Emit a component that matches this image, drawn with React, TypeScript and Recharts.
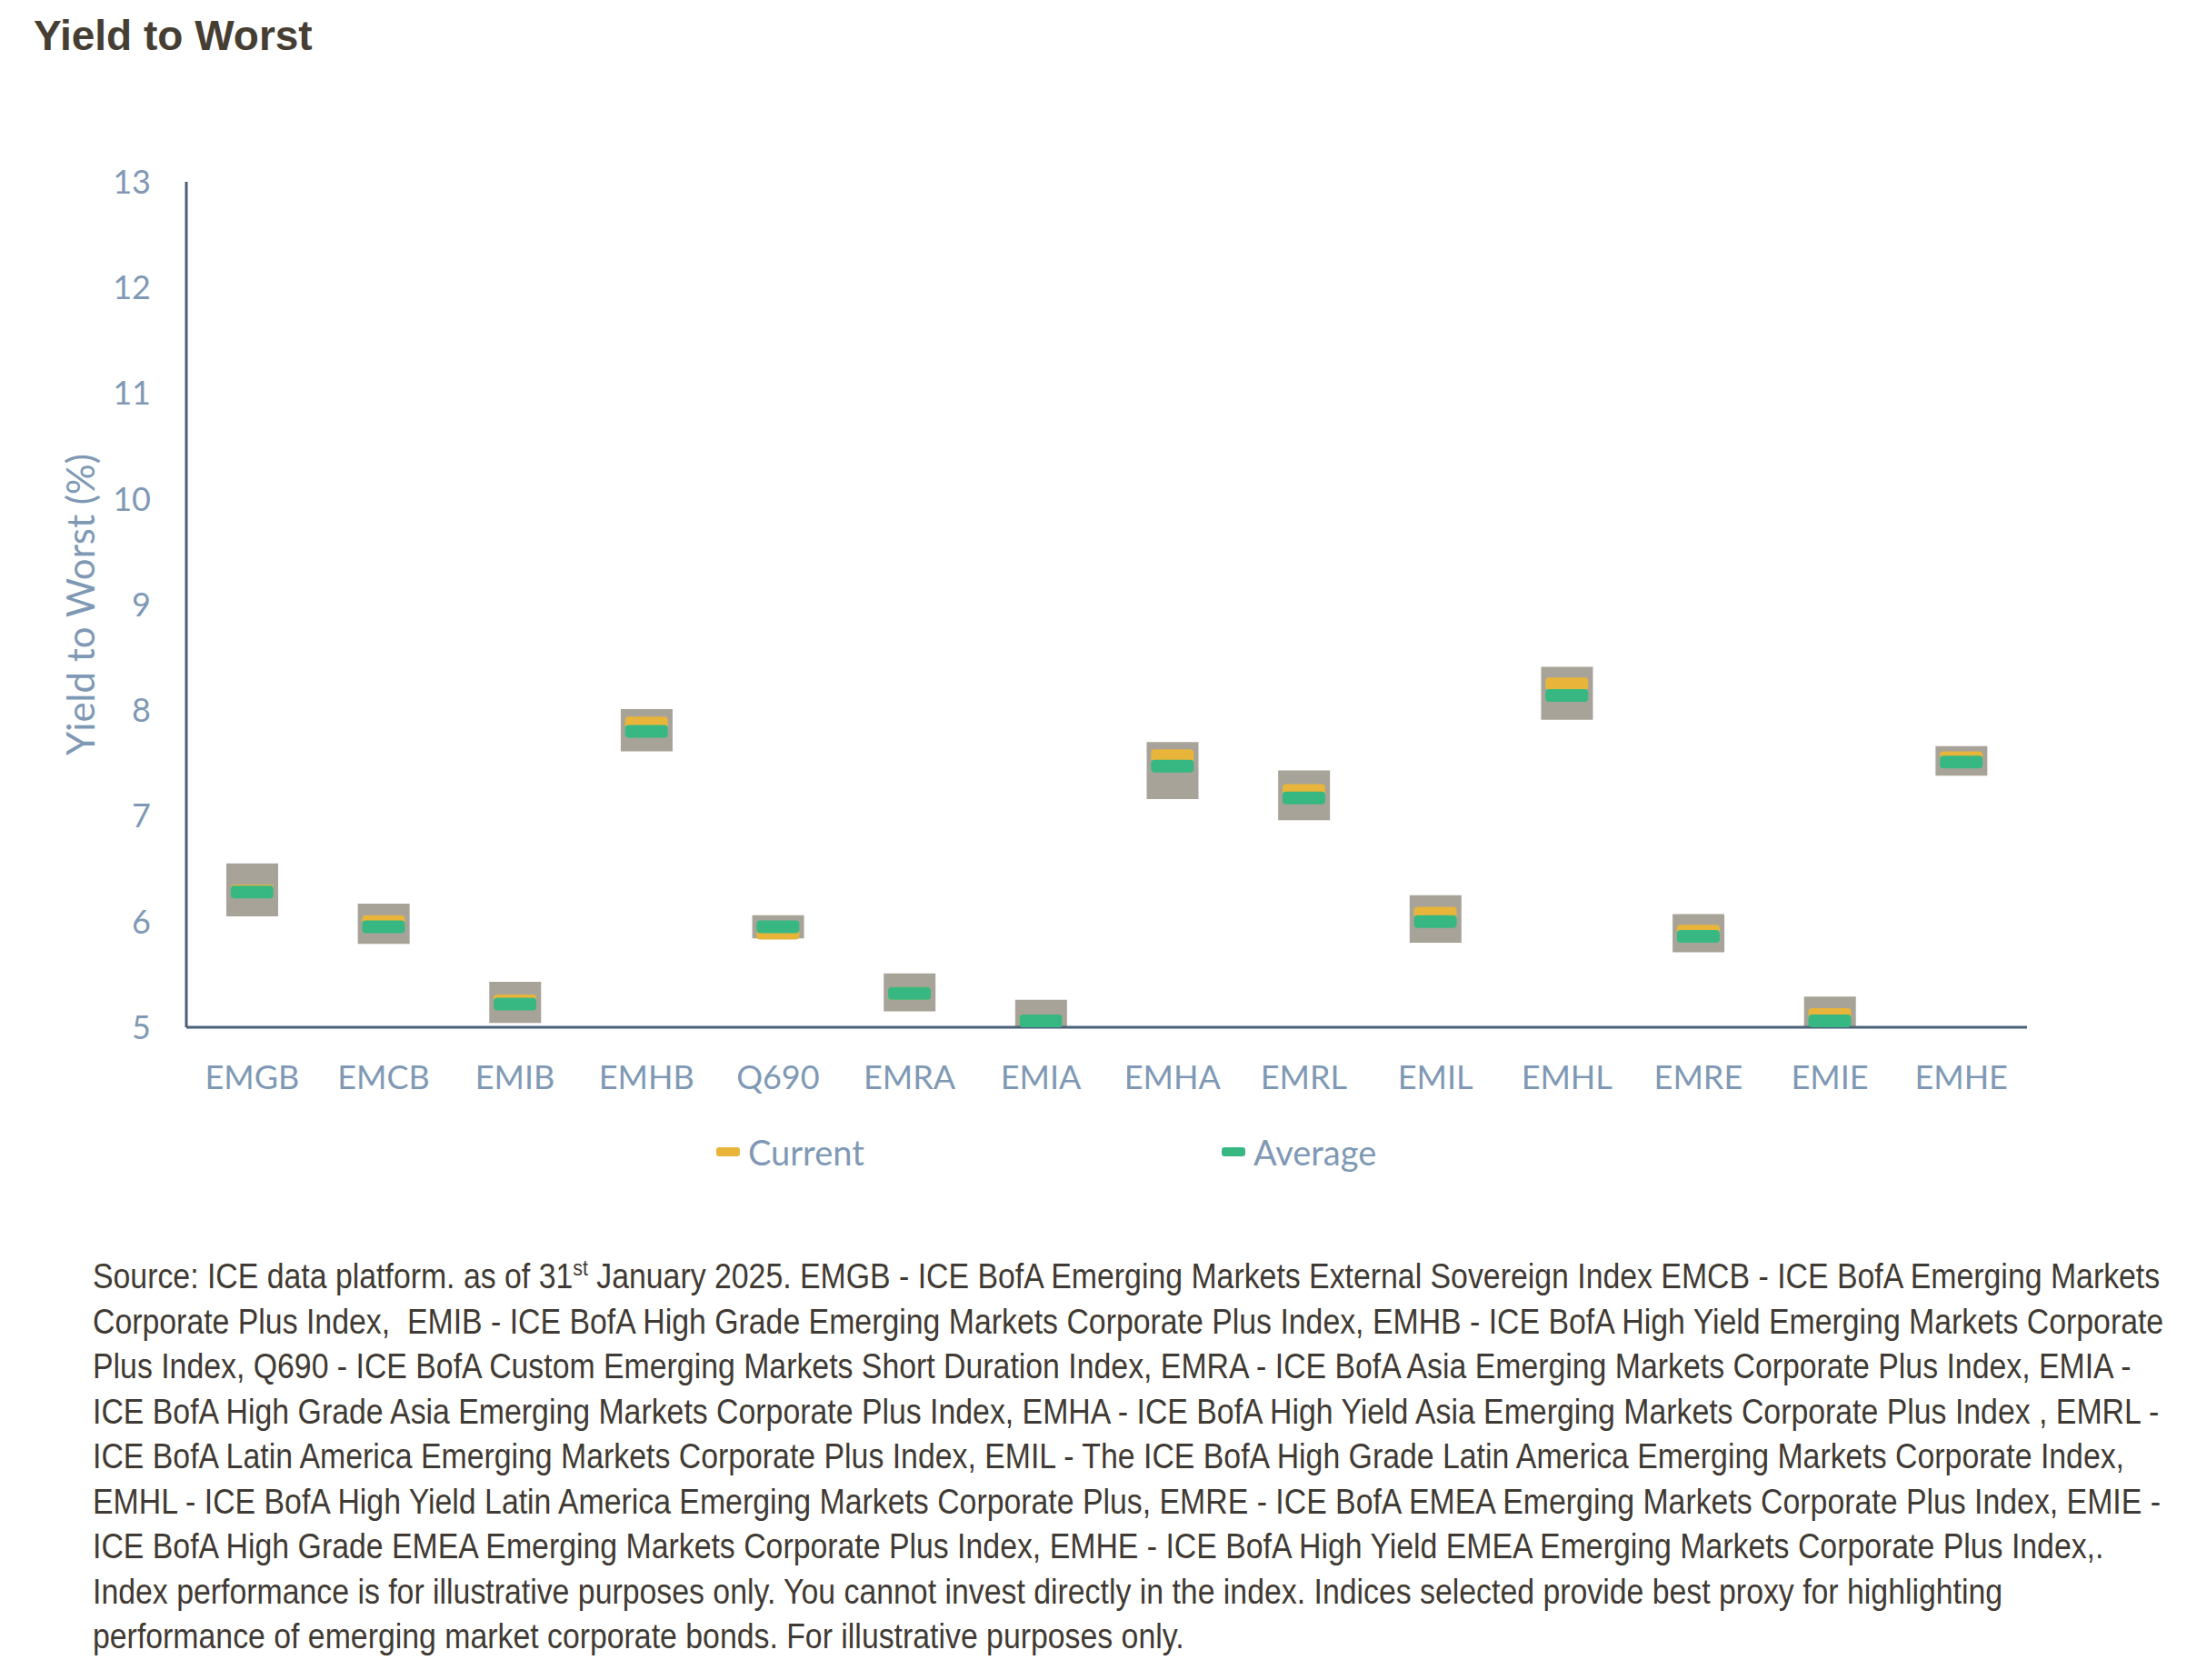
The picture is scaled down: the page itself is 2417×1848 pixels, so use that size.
import React from 'react';
import {
  ComposedChart,
  Bar,
  Scatter,
  XAxis,
  YAxis,
} from 'recharts';

// index codes, left to right
const categories = ['EMGB', 'EMCB', 'EMIB', 'EMHB', 'Q690', 'EMRA', 'EMIA', 'EMHA', 'EMRL', 'EMIL', 'EMHL', 'EMRE', 'EMIE', 'EMHE'];

// grey box = historical range (low / high)
const rangeLow = [6.05, 5.79, 5.04, 7.61, 5.84, 5.15, 4.97, 7.16, 6.96, 5.8, 7.91, 5.71, 4.97, 7.38];
const rangeHigh = [6.55, 6.17, 5.43, 8.01, 6.06, 5.51, 5.26, 7.7, 7.43, 6.25, 8.41, 6.07, 5.29, 7.66];

const currentYield = [6.29, 6.0, 5.25, 7.88, 5.89, 5.32, 5.06, 7.57, 7.24, 6.08, 8.25, 5.91, 5.12, 7.55];
const averageYield = [6.28, 5.95, 5.22, 7.8, 5.95, 5.32, 5.06, 7.47, 7.17, 6.0, 8.14, 5.86, 5.06, 7.51];

const yTicks = [5, 6, 7, 8, 9, 10, 11, 12, 13];

const footnoteLines = [
  'ICE data platform. as of 31',
  'Corporate Plus Index,  EMIB - ICE BofA High Grade Emerging Markets Corporate Plus Index, EMHB - ICE BofA High Yield Emerging Markets Corporate',
  'Plus Index, Q690 - ICE BofA Custom Emerging Markets Short Duration Index, EMRA - ICE BofA Asia Emerging Markets Corporate Plus Index, EMIA -',
  'ICE BofA High Grade Asia Emerging Markets Corporate Plus Index, EMHA - ICE BofA High Yield Asia Emerging Markets Corporate Plus Index , EMRL -',
  'ICE BofA Latin America Emerging Markets Corporate Plus Index, EMIL - The ICE BofA High Grade Latin America Emerging Markets Corporate Index,',
  'EMHL - ICE BofA High Yield Latin America Emerging Markets Corporate Plus, EMRE - ICE BofA EMEA Emerging Markets Corporate Plus Index, EMIE -',
  'ICE BofA High Grade EMEA Emerging Markets Corporate Plus Index, EMHE - ICE BofA High Yield EMEA Emerging Markets Corporate Plus Index,.',
  'Index performance is for illustrative purposes only. You cannot invest directly in the index. Indices selected provide best proxy for highlighting',
  'performance of emerging market corporate bonds. For illustrative purposes only.',
];

const data = categories.map((name, i) => ({
  name,
  range: [rangeLow[i], rangeHigh[i]],
  current: currentYield[i],
  average: averageYield[i],
}));

const GREY = '#a7a398';
const YELLOW = '#e8b53a';
const GREEN = '#37b883';
const AXIS = '#4b6079';
const LABEL = '#7f99b5';
const FONT = 'Lato, "Open Sans", sans-serif';

const marker = (fill: string) => (props: any) => {
  const { cx, cy } = props;
  if (cx == null || cy == null) return null;
  return <rect x={cx - 23.5} y={cy - 7} width={47} height={14} rx={4} ry={4} fill={fill} />;
};

const yLabel = (props: any) => {
  const { viewBox } = props;
  const x = viewBox.x + 88;
  const y = viewBox.y + viewBox.height / 2;
  return (
    <text x={x} y={y} transform={`rotate(-90, ${x}, ${y})`} textAnchor="middle" dominantBaseline="central"
      fill={LABEL} fontFamily={FONT} fontSize={42}>
      Yield to Worst (%)
    </text>
  );
};

function LegendItem({ color, label, left }: { color: string; label: string; left: number }) {
  return (
    <div style={{ position: 'absolute', left, top: 1243, height: 48, display: 'flex', alignItems: 'center', fontFamily: FONT, fontSize: 38, color: LABEL }}>
      <span style={{ display: 'inline-block', width: 26, height: 10, borderRadius: 3, background: color, marginRight: 9 }} />
      <span>{label}</span>
    </div>
  );
}

export default function App() {
  return (
    <div style={{ position: 'absolute', left: 0, top: 0, width: 2417, height: 1848, background: '#fff' }}>
      <div style={{ position: 'absolute', left: 37, top: 12, fontFamily: '"Liberation Sans", Arial, sans-serif', fontWeight: 'bold', fontSize: 46, color: '#463e33' }}>
        Yield to Worst
      </div>

      <div style={{ position: 'absolute', left: 0, top: 0 }}>
        <ComposedChart width={2417} height={1320} data={data} margin={{ top: 200, right: 187, bottom: 0, left: 0 }} barCategoryGap={0}>
          <XAxis
            dataKey="name"
            height={190}
            axisLine={{ stroke: AXIS, strokeWidth: 3 }}
            tickLine={false}
            tickSize={6}
            tickMargin={36}
            tick={{ fill: LABEL, fontFamily: FONT, fontSize: 36 }}
            interval={0}
          />
          <YAxis
            type="number"
            domain={[5, 13]}
            ticks={yTicks}
            allowDataOverflow
            width={205}
            axisLine={{ stroke: AXIS, strokeWidth: 3 }}
            tickLine={false}
            tickSize={6}
            tickMargin={33}
            tick={{ fill: LABEL, fontFamily: FONT, fontSize: 36 }}
            label={yLabel}
          />
          <Bar dataKey="range" fill={GREY} barSize={57} isAnimationActive={false} legendType="none" />
          <Scatter dataKey="current" name="Current" shape={marker(YELLOW)} isAnimationActive={false} />
          <Scatter dataKey="average" name="Average" shape={marker(GREEN)} isAnimationActive={false} />
        </ComposedChart>
      </div>

      <LegendItem color={YELLOW} label="Current" left={788} />
      <LegendItem color={GREEN} label="Average" left={1344} />

      <div style={{ position: 'absolute', left: 102, top: 1380, fontFamily: '"Liberation Sans", Arial, sans-serif', fontSize: 38, lineHeight: '49.5px', color: '#3f3a33', whiteSpace: 'pre', transform: 'scaleX(0.89)', transformOrigin: 'left top' }}>
        <div>
          Source: {footnoteLines[0]}<sup style={{ fontSize: 24, lineHeight: 0 }}>st</sup> January 2025. EMGB - ICE BofA Emerging Markets External Sovereign Index EMCB - ICE BofA Emerging Markets
        </div>
        {footnoteLines.slice(1).map((line, i) => (
          <div key={i}>{line}</div>
        ))}
      </div>
    </div>
  );
}
